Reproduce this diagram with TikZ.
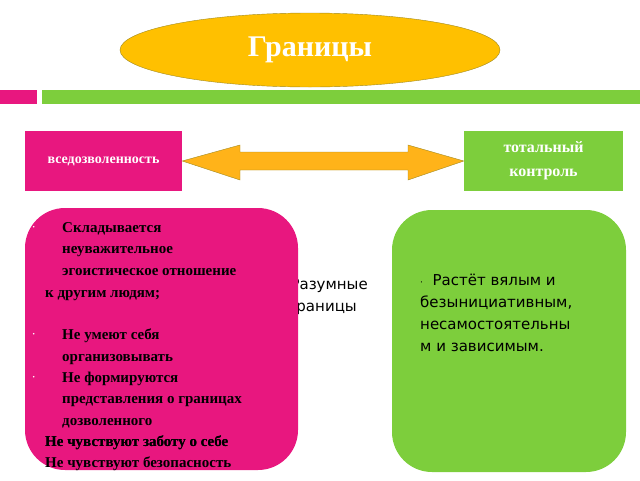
\documentclass[tikz,border=0pt]{standalone}
\usepackage{fontspec}
\setmainfont{Liberation Serif}
\newfontfamily\dejavu{DejaVu Sans}
\usetikzlibrary{shapes.geometric,shapes.arrows}
\definecolor{pinkc}{HTML}{E8177F}
\definecolor{greenc}{HTML}{7DCE3C}
\definecolor{yellowc}{HTML}{FFC000}
\definecolor{orangec}{HTML}{FFB319}
\definecolor{olivec}{HTML}{A08A20}
\tikzset{
  lbl/.style={font=\bfseries\fontsize{15}{17}\selectfont, anchor=base west, inner sep=0pt, text=black},
  bul/.style={font=\bfseries\fontsize{10}{12}\selectfont, anchor=base west, inner sep=0pt, text=white},
  hid/.style={font=\dejavu\fontsize{15}{17}\selectfont, anchor=base east, inner sep=0pt}
}
\begin{document}
\begin{tikzpicture}[x=1pt,y=-1pt]
\useasboundingbox (0,0) rectangle (640,480);
% ellipse title
\node[ellipse, draw=olivec, fill=yellowc, minimum width=380, minimum height=74, inner sep=0pt,
  font=\bfseries\fontsize{30}{32}\selectfont, text=white] (title) at (310,50) {Границы};
% bars
\fill[pinkc] (0,90) rectangle (37,104);
\fill[greenc] (42,90) rectangle (640,104);
% top boxes
\node[fill=pinkc, minimum width=157, minimum height=60, inner sep=0pt, text=white,
  font=\bfseries\fontsize{14}{16}\selectfont] (perm) at (103.5,161) {вседозволенность};
\node[fill=greenc, minimum width=159, minimum height=60, inner sep=0pt, text=white, align=center,
  font=\bfseries\fontsize{16}{24}\selectfont] (total) at (543.5,161) {тотальный\\контроль};
% double arrow
\draw[draw=olivec, fill=orangec, line join=miter]
  (perm.east) -- (240,145) -- (240,152) -- (408,152) -- (408,145) -- (total.west)
  -- (408,180) -- (408,170) -- (240,170) -- (240,180) -- cycle;
% hidden text
\node[hid] (h1) at (368,289) {Разумные};
\node[hid] (h2) at (357,311) {границы};
% rounded boxes
\node[fill=pinkc, rounded corners=40, minimum width=273, minimum height=262, inner sep=0pt] (lbox) at (161.5,339) {};
\node[fill=greenc, rounded corners=40, minimum width=234, minimum height=262, inner sep=0pt] (rbox) at (509,341) {};
% left text
\foreach \y/\t in {232/Складывается, 253/неуважительное, 275/эгоистическое отношение, 339/Не умеют себя, 361/организовывать, 382/Не формируются, 403/представления о границах, 425/дозволенного}
  \node[lbl] at (62,\y) {\t};
\foreach \y/\t in {297/к другим людям;, 446/Не чувствуют заботу о себе, 467/Не чувствуют безопасность}
  \node[lbl] at (45,\y) {\t};
\node[lbl] at (45,446) {Не чувствуют заботу о себе};
\foreach \y in {230,337,380}
  \node[bul] at (32,\y) {·};
% right text
\node[font=\dejavu\fontsize{15}{22}\selectfont, anchor=north west, align=left, inner sep=0pt] (rt) at (420,274)
  {\fontsize{9}{22}\selectfont·\fontsize{15}{22}\selectfont\ \ Растёт вялым и\\безынициативным,\\несамостоятельны\\м и зависимым.};
\end{tikzpicture}
\end{document}
